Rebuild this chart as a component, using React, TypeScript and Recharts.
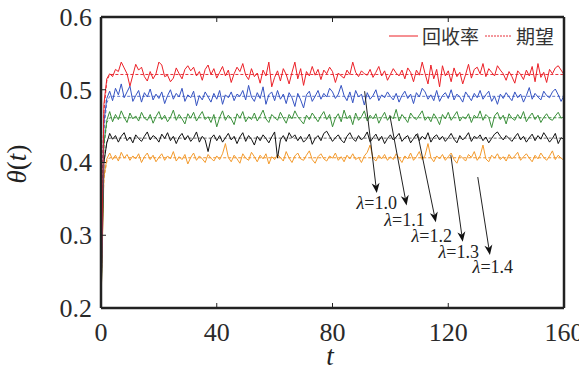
import React from 'react';
import { LineChart, Line, XAxis, YAxis, ReferenceLine, ReferenceDot } from 'recharts';

const xTicks = [0, 40, 80, 120, 160];
const yTicks = [0.2, 0.3, 0.4, 0.5, 0.6];

const red = [
  0.200, 0.480, 0.515, 0.522, 0.518, 0.528, 0.525, 0.538, 0.530, 0.522, 0.505, 0.520, 0.535, 0.527, 0.531, 0.518, 0.512, 0.525, 0.515, 0.522,
  0.538, 0.534, 0.518, 0.520, 0.511, 0.516, 0.530, 0.522, 0.515, 0.528, 0.533, 0.526, 0.531, 0.519, 0.525, 0.513, 0.528, 0.534, 0.521, 0.529,
  0.516, 0.524, 0.532, 0.519, 0.527, 0.510, 0.522, 0.531, 0.525, 0.536, 0.520, 0.514, 0.529, 0.518, 0.523, 0.509, 0.527, 0.519, 0.538, 0.504,
  0.517, 0.526, 0.512, 0.529, 0.521, 0.508, 0.524, 0.538, 0.515, 0.529, 0.506, 0.525, 0.519, 0.532, 0.520, 0.528, 0.514, 0.527, 0.522, 0.531,
  0.525, 0.510, 0.523, 0.519, 0.516, 0.527, 0.521, 0.538, 0.524, 0.518, 0.526, 0.522, 0.520, 0.528, 0.517, 0.524, 0.532, 0.519, 0.526, 0.513,
  0.521, 0.529, 0.523, 0.519, 0.527, 0.515, 0.530, 0.524, 0.511, 0.527, 0.520, 0.538, 0.522, 0.508, 0.534, 0.515, 0.528, 0.504, 0.533, 0.519,
  0.526, 0.511, 0.530, 0.518, 0.524, 0.508, 0.521, 0.535, 0.516, 0.528, 0.531, 0.522, 0.536, 0.518, 0.529, 0.524, 0.519, 0.533, 0.527, 0.522,
  0.513, 0.525, 0.518, 0.509, 0.526, 0.521, 0.514, 0.527, 0.519, 0.532, 0.511, 0.536, 0.517, 0.524, 0.510, 0.528, 0.522, 0.530, 0.533, 0.527,
  0.521,
];

const blue = [
  0.200, 0.455, 0.488, 0.498, 0.485, 0.502, 0.493, 0.508, 0.489, 0.497, 0.505, 0.484, 0.492, 0.499, 0.483, 0.496, 0.490, 0.501, 0.486, 0.494,
  0.488, 0.497, 0.481, 0.492, 0.500, 0.487, 0.495, 0.490, 0.502, 0.484, 0.493, 0.489, 0.498, 0.478, 0.492, 0.486, 0.497, 0.490, 0.483, 0.495,
  0.487, 0.499, 0.480, 0.493, 0.489, 0.497, 0.485, 0.494, 0.491, 0.499, 0.486, 0.506, 0.490, 0.484, 0.496, 0.488, 0.504, 0.480, 0.493, 0.497,
  0.485, 0.499, 0.487, 0.494, 0.481, 0.496, 0.489, 0.477, 0.495, 0.486, 0.475, 0.493, 0.498, 0.484, 0.491, 0.499, 0.487, 0.495, 0.490, 0.502,
  0.497, 0.488, 0.494, 0.506, 0.492, 0.485, 0.497, 0.482, 0.499, 0.490, 0.494, 0.479, 0.496, 0.487, 0.492, 0.500, 0.485, 0.493, 0.489, 0.497,
  0.491, 0.486, 0.495, 0.483, 0.492, 0.498, 0.488, 0.494, 0.481, 0.496, 0.490, 0.502, 0.497, 0.487, 0.493, 0.485, 0.499, 0.484, 0.492, 0.496,
  0.488, 0.500, 0.486, 0.494, 0.490, 0.483, 0.497, 0.491, 0.485, 0.495, 0.489, 0.499, 0.487, 0.493, 0.498, 0.484, 0.491, 0.480, 0.494, 0.488,
  0.496, 0.490, 0.485, 0.497, 0.489, 0.494, 0.483, 0.492, 0.503, 0.487, 0.495, 0.490, 0.486, 0.498, 0.492, 0.489, 0.497, 0.501, 0.493, 0.484,
  0.492,
];

const green = [
  0.200, 0.425, 0.458, 0.470, 0.456, 0.466, 0.459, 0.471, 0.462, 0.455, 0.468, 0.460, 0.464, 0.457, 0.469, 0.461, 0.458, 0.466, 0.454, 0.463,
  0.470, 0.459, 0.465, 0.456, 0.462, 0.472, 0.458, 0.466, 0.460, 0.453, 0.467, 0.461, 0.469, 0.457, 0.464, 0.470, 0.459, 0.463, 0.455, 0.466,
  0.449, 0.462, 0.471, 0.458, 0.465, 0.460, 0.452, 0.467, 0.461, 0.470, 0.456, 0.463, 0.459, 0.468, 0.457, 0.464, 0.472, 0.460, 0.455, 0.466,
  0.462, 0.458, 0.469, 0.461, 0.454, 0.466, 0.460, 0.471, 0.463, 0.458, 0.453, 0.465, 0.459, 0.468, 0.462, 0.456, 0.464, 0.470, 0.459, 0.466,
  0.449, 0.461, 0.467, 0.456, 0.472, 0.460, 0.465, 0.452, 0.468, 0.458, 0.463, 0.471, 0.457, 0.465, 0.460, 0.467, 0.454, 0.462, 0.469, 0.458,
  0.464, 0.460, 0.473, 0.457, 0.466, 0.461, 0.455, 0.468, 0.462, 0.459, 0.465, 0.471, 0.458, 0.463, 0.456, 0.467, 0.461, 0.452, 0.466, 0.460,
  0.469, 0.458, 0.464, 0.470, 0.457, 0.463, 0.460, 0.467, 0.455, 0.465, 0.461, 0.471, 0.458, 0.466, 0.462, 0.448, 0.464, 0.469, 0.459, 0.465,
  0.453, 0.467, 0.461, 0.458, 0.466, 0.460, 0.470, 0.456, 0.463, 0.468, 0.459, 0.465, 0.455, 0.462, 0.467, 0.460, 0.458, 0.464, 0.469, 0.461,
  0.463,
];

const black = [
  0.200, 0.400, 0.427, 0.440, 0.432, 0.437, 0.428, 0.436, 0.441, 0.430, 0.435, 0.427, 0.438, 0.433, 0.429, 0.436, 0.442, 0.431, 0.437, 0.434,
  0.428, 0.439, 0.433, 0.441, 0.430, 0.436, 0.426, 0.435, 0.440, 0.431, 0.437, 0.429, 0.434, 0.442, 0.428, 0.436, 0.431, 0.415, 0.433, 0.438,
  0.430, 0.437, 0.428, 0.434, 0.440, 0.431, 0.436, 0.426, 0.435, 0.441, 0.429, 0.437, 0.432, 0.424, 0.436, 0.430, 0.438, 0.433, 0.427, 0.435,
  0.442, 0.406, 0.431, 0.437, 0.429, 0.441, 0.434, 0.438, 0.430, 0.436, 0.428, 0.432, 0.439, 0.425, 0.433, 0.437, 0.430, 0.440, 0.443, 0.436,
  0.429, 0.434, 0.438, 0.431, 0.427, 0.436, 0.441, 0.433, 0.429, 0.437, 0.431, 0.435, 0.442, 0.428, 0.434, 0.439, 0.430, 0.436, 0.426, 0.433,
  0.438, 0.431, 0.435, 0.440, 0.429, 0.434, 0.437, 0.427, 0.433, 0.439, 0.430, 0.436, 0.432, 0.441, 0.428, 0.435, 0.438, 0.431, 0.436, 0.429,
  0.434, 0.440, 0.432, 0.427, 0.437, 0.431, 0.435, 0.441, 0.429, 0.436, 0.433, 0.438, 0.430, 0.435, 0.427, 0.433, 0.439, 0.442, 0.436, 0.431,
  0.437, 0.433, 0.429, 0.435, 0.440, 0.431, 0.436, 0.428, 0.434, 0.439, 0.430, 0.437, 0.432, 0.441, 0.435, 0.428, 0.433, 0.440, 0.426, 0.434,
  0.432,
];

const orange = [
  0.200, 0.380, 0.405, 0.413, 0.404, 0.410, 0.402, 0.414, 0.406, 0.411, 0.403, 0.409, 0.405, 0.412, 0.400, 0.408, 0.413, 0.404, 0.410, 0.401,
  0.407, 0.412, 0.403, 0.409, 0.405, 0.415, 0.402, 0.408, 0.404, 0.411, 0.398, 0.407, 0.413, 0.403, 0.409, 0.405, 0.400, 0.411, 0.406, 0.402,
  0.409, 0.404, 0.412, 0.426, 0.407, 0.401, 0.410, 0.405, 0.399, 0.412, 0.406, 0.403, 0.414, 0.408, 0.401, 0.410, 0.405, 0.412, 0.398, 0.408,
  0.404, 0.411, 0.407, 0.402, 0.415, 0.406, 0.400, 0.409, 0.413, 0.405, 0.403, 0.410, 0.416, 0.404, 0.399, 0.408, 0.412, 0.405, 0.402, 0.409,
  0.406, 0.413, 0.403, 0.408, 0.401, 0.410, 0.405, 0.412, 0.404, 0.407, 0.400, 0.409, 0.414, 0.424, 0.406, 0.402, 0.410, 0.405, 0.411, 0.403,
  0.408, 0.404, 0.412, 0.406, 0.400, 0.409, 0.405, 0.413, 0.403, 0.408, 0.415, 0.404, 0.410, 0.426, 0.407, 0.401, 0.409, 0.405, 0.411, 0.403,
  0.408, 0.413, 0.404, 0.399, 0.410, 0.406, 0.402, 0.411, 0.407, 0.415, 0.403, 0.409, 0.424, 0.405, 0.401, 0.410, 0.406, 0.412, 0.404, 0.408,
  0.402, 0.411, 0.405, 0.409, 0.414, 0.403, 0.408, 0.412, 0.406, 0.401, 0.410, 0.405, 0.413, 0.407, 0.403, 0.409, 0.416, 0.404, 0.410, 0.406,
  0.403,
];

// expectation curves
const expT = [0, 0.5, 1, 2, 3, 160];
const expRed = [0.2, 0.385, 0.47, 0.512, 0.521, 0.521];
const expBlue = [0.2, 0.368, 0.445, 0.482, 0.491, 0.491];
const expGreen = [0.2, 0.352, 0.422, 0.455, 0.4615, 0.4615];
const expBlack = [0.2, 0.337, 0.4, 0.428, 0.4335, 0.4335];
const expOrange = [0.2, 0.322, 0.378, 0.401, 0.4065, 0.4065];

// annotations: lambda values, arrow start / end, label centre (data coords)
const lambdas = ['1.0', '1.1', '1.2', '1.3', '1.4'];
const arrowFrom = [[91.1, 0.498], [99.8, 0.465], [109.4, 0.44], [120.9, 0.41], [130.2, 0.38]];
const arrowTo = [[95.3, 0.358], [105.6, 0.341], [115.7, 0.318], [125.0, 0.291], [134.4, 0.273]];
const labelAt = [[95.3, 0.344], [104.9, 0.321], [114.3, 0.299], [123.6, 0.277], [135.4, 0.256]];

const series = [
  { key: 'r', exp: expRed, color: '#ec2027', expColor: '#e8313a' },
  { key: 'b', exp: expBlue, color: '#3553c2', expColor: '#5b74cc' },
  { key: 'g', exp: expGreen, color: '#3a8f3a', expColor: '#3f8f3f' },
  { key: 'k', exp: expBlack, color: '#111111', expColor: '#666666' },
  { key: 'o', exp: expOrange, color: '#f39a2c', expColor: '#ef9128' },
];

const rows = red.map((_, i) => ({
  t: i,
  r: red[i],
  b: blue[i],
  g: green[i],
  k: black[i],
  o: orange[i],
}));

const SERIF = "Times New Roman, Liberation Serif, Tinos, DejaVu Serif, serif";
const frame = '#222222';
const textFill = '#2a2a2a';

const Arrow = (p: any) => {
  const { x1, y1, x2, y2 } = p;
  const dx = x2 - x1;
  const dy = y2 - y1;
  const len = Math.sqrt(dx * dx + dy * dy) || 1;
  const ux = dx / len;
  const uy = dy / len;
  const L = 10;
  const W = 4;
  const bx = x2 - ux * L;
  const by = y2 - uy * L;
  const nx = x2 - ux * (L - 3);
  const ny = y2 - uy * (L - 3);
  const pts = `${x2},${y2} ${bx - uy * W},${by + ux * W} ${nx},${ny} ${bx + uy * W},${by - ux * W}`;
  return (
    <g>
      <line x1={x1} y1={y1} x2={nx} y2={ny} stroke="#222" strokeWidth={1} />
      <polygon points={pts} fill="#111" />
    </g>
  );
};

const makeLabel = (lam: string) => (p: any) => (
  <text
    x={p.cx}
    y={p.cy}
    textAnchor="middle"
    dominantBaseline="central"
    fontFamily={SERIF}
    fontSize={18}
    fill="#222"
  >
    <tspan fontStyle="italic">λ</tspan>={lam}
  </text>
);

const XTick = (p: any) => (
  <text x={p.x} y={p.y} dy="0.71em" textAnchor="middle" fontFamily={SERIF} fontSize={26} fill={textFill}>
    {p.payload.value}
  </text>
);

const YTick = (p: any) => (
  <text x={p.x} y={p.y} dy="0.34em" textAnchor="end" fontFamily={SERIF} fontSize={26} fill={textFill}>
    {Number(p.payload.value).toFixed(1)}
  </text>
);

const YLabel = () => (
  <text
    x={26}
    y={164}
    transform="rotate(-90 26 164)"
    textAnchor="middle"
    fontFamily={SERIF}
    fontSize={27}
    fill="#222"
  >
    <tspan fontStyle="italic">θ</tspan>(<tspan fontStyle="italic">t</tspan>)
  </text>
);

const XLabel = () => (
  <text x={330} y={365} textAnchor="middle" fontFamily={SERIF} fontSize={27} fontStyle="italic" fill="#222">
    t
  </text>
);

const emptyTick = () => <g />;

const LegendBox = () => (
  <div
    style={{
      position: 'absolute',
      left: 389,
      top: 24,
      display: 'flex',
      alignItems: 'center',
      fontFamily: '"Noto Sans CJK SC", sans-serif',
      fontSize: 19,
      color: '#333',
      whiteSpace: 'nowrap',
      lineHeight: '24px',
    }}
  >
    <svg width={31} height={10} style={{ marginRight: 2 }}>
      <line x1={0} y1={5} x2={29} y2={5} stroke="#ec2027" strokeWidth={1} />
    </svg>
    <span>回收率</span>
    <svg width={30} height={10} style={{ marginLeft: 6, marginRight: 1 }}>
      <line x1={0} y1={5} x2={27} y2={5} stroke="#e8313a" strokeWidth={1} strokeDasharray="2 1" />
    </svg>
    <span>期望</span>
  </div>
);

export default function App() {
  return (
    <div style={{ position: 'fixed', left: 0, top: 0, width: 579, height: 368, background: '#fff' }}>
      <LineChart width={579} height={368} data={rows} margin={{ top: 0, right: 0, bottom: 15, left: 0 }}>
        <XAxis
          dataKey="t"
          type="number"
          domain={[0, 160]}
          ticks={xTicks}
          height={45}
          axisLine={{ stroke: frame, strokeWidth: 2.5 }}
          tickLine={{ stroke: frame, strokeWidth: 1 }}
          tickSize={-5}
          tickMargin={20}
          tick={XTick}
          label={<XLabel />}
        />
        <XAxis
          xAxisId="top"
          orientation="top"
          dataKey="t"
          type="number"
          domain={[0, 160]}
          ticks={xTicks}
          height={17}
          axisLine={{ stroke: frame, strokeWidth: 2.5 }}
          tickLine={{ stroke: frame, strokeWidth: 1 }}
          tickSize={-5}
          tick={emptyTick}
        />
        <YAxis
          type="number"
          domain={[0.2, 0.6]}
          ticks={yTicks}
          width={101}
          axisLine={{ stroke: frame, strokeWidth: 2.5 }}
          tickLine={{ stroke: frame, strokeWidth: 1 }}
          tickSize={-5}
          tickMargin={14}
          tick={YTick}
          label={<YLabel />}
        />
        <YAxis
          yAxisId="right"
          orientation="right"
          type="number"
          domain={[0.2, 0.6]}
          ticks={yTicks}
          width={15}
          axisLine={{ stroke: frame, strokeWidth: 2.5 }}
          tickLine={{ stroke: frame, strokeWidth: 1 }}
          tickSize={-5}
          tick={emptyTick}
        />
        {series.map((s) => (
          <Line
            key={'exp' + s.key}
            data={expT.map((t, i) => ({ t, v: s.exp[i] }))}
            dataKey="v"
            stroke={s.expColor}
            strokeWidth={1}
            strokeDasharray="3 2"
            dot={false}
            activeDot={false}
            isAnimationActive={false}
            legendType="none"
          />
        ))}
        {series
          .slice()
          .reverse()
          .map((s) => (
            <Line
              key={s.key}
              dataKey={s.key}
              stroke={s.color}
              strokeWidth={1}
              dot={false}
              activeDot={false}
              isAnimationActive={false}
              legendType="none"
            />
          ))}
        {lambdas.map((lam, i) => (
          <ReferenceLine
            key={'a' + i}
            segment={[
              { x: arrowFrom[i][0], y: arrowFrom[i][1] },
              { x: arrowTo[i][0], y: arrowTo[i][1] },
            ]}
            shape={Arrow}
          />
        ))}
        {lambdas.map((lam, i) => (
          <ReferenceDot key={'l' + i} x={labelAt[i][0]} y={labelAt[i][1]} r={0} shape={makeLabel(lam)} />
        ))}
      </LineChart>
      <LegendBox />
    </div>
  );
}
